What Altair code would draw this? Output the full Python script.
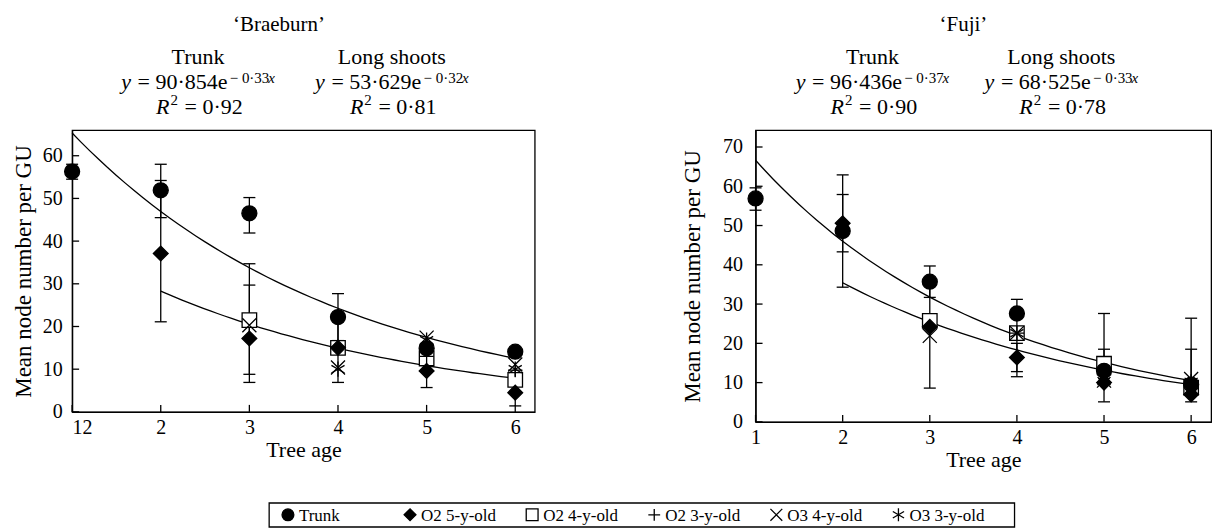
import altair as alt
import pandas as pd

FONT = "Liberation Serif"

# ---------------- data ----------------
ages = [1, 2, 3, 4, 5, 6]
series = ["Trunk", "O2 5-y-old", "O2 4-y-old", "O2 3-y-old", "O3 4-y-old", "O3 3-y-old"]

# 'Braeburn' mean node numbers (None = no value)
br_trunk = [56.3, 51.9, 46.5, 22.2, 14.9, 14.1]
br_o2_5y = [None, 37.1, 17.2, 15.0, 9.6, 4.5]
br_o2_4y = [None, None, 21.5, 15.0, 12.5, 7.5]
br_o2_3y = [None, None, None, 15.2, 13.0, 9.8]
br_o3_4y = [None, None, 20.3, 10.4, 17.4, 11.1]
br_o3_3y = [None, None, None, 10.0, 16.8, 10.0]

br_err_age = [1, 2, 2, 3, 3, 3, 4, 4, 5, 6]
br_err_lo = [54.5, 45.5, 21.1, 41.9, 8.8, 6.9, 16.7, 6.9, 5.7, 1.4]
br_err_hi = [58.0, 58.0, 54.2, 50.2, 34.7, 29.7, 27.7, 23.0, 13.5, 7.5]

# 'Fuji'
fj_trunk = [56.9, 48.6, 35.7, 27.6, 13.0, 9.5]
fj_o2_5y = [None, 50.6, 24.2, 16.4, 10.0, 7.0]
fj_o2_4y = [None, None, 25.7, 22.6, 14.8, 8.7]
fj_o2_3y = [None, None, None, 22.6, 12.0, 9.5]
fj_o3_4y = [None, None, 21.9, 22.6, 10.5, 10.9]
fj_o3_3y = [None, None, None, 22.6, 10.4, 10.2]

fj_err_age = [1, 2, 2, 3, 3, 4, 4, 4, 5, 5, 6, 6]
fj_err_lo = [53.9, 34.3, 43.3, 31.7, 8.6, 24.0, 11.5, 12.8, 5.1, 11.0, 5.1, 7.0]
fj_err_hi = [59.6, 62.9, 57.9, 39.7, 35.0, 31.2, 21.3, 20.0, 27.6, 18.5, 26.4, 18.5]

# exponential fits y = a*exp(-b*x)
fit_names = ["Trunk", "Long shoots"]
fit_x_start = [1, 2]
fit_x_end = [6, 6]
br_fit_a = [90.854, 53.629]
br_fit_b = [0.33, 0.32]
br_r2 = [0.92, 0.81]
fj_fit_a = [96.436, 68.525]
fj_fit_b = [0.37, 0.33]
fj_r2 = [0.90, 0.78]

# axes
x_ticks = [1, 2, 3, 4, 5, 6]
br_x_labels = ["12", "2", "3", "4", "5", "6"]
fj_x_labels = ["1", "2", "3", "4", "5", "6"]
br_y_ticks = [0, 10, 20, 30, 40, 50, 60]
fj_y_ticks = [0, 10, 20, 30, 40, 50, 60, 70]

# ---------------- styling ----------------
shapes = ["circle", "diamond", "square",
          "M-1,0L1,0M0,-1L0,1",
          "M-1,-1L1,1M-1,1L1,-1",
          "M0,-1.1L0,1.1M-0.95,-0.55L0.95,0.55M-0.95,0.55L0.95,-0.55"]
fills = ["black", "black", "white", "transparent", "transparent", "transparent"]
sizes = [225, 190, 170, 170, 150, 190]
draw_order = [2, 0, 1, 3, 4, 5]
LW = 1.3

shape_scale = alt.Scale(domain=series, range=shapes)
fill_scale = alt.Scale(domain=series, range=fills)

TW = {" ": .25, "=": .564, "·": .25, "e": .444, "−": .564, "0": .5, "1": .5, "2": .5,
      "3": .5, "4": .5, "5": .5, "6": .5, "7": .5, "8": .5, "9": .5}


def tw(s, size):
    return sum(TW.get(c, .5) for c in s) * size


def fmt(v, nd):
    return f"{v:.{nd}f}".replace(".", "·")


def annotations(cultivar, fa, fb, r2, centers, title_x):
    F, S = 22, 15
    sp = .3 * F
    rows = [dict(t=cultivar, x=title_x, y=-99, st="normal", fs=21, al="center")]
    for name, a, b, r, cx in zip(fit_names, fa, fb, r2, centers):
        rows.append(dict(t=name, x=cx, y=-66, st="normal", fs=F, al="center"))
        main = "= " + fmt(a, 3) + "e"
        sup = "− " + fmt(b, 2)
        w = .444 * F + sp + tw(main, F) + 4 + tw(sup, S) + .444 * S
        x0 = cx - w / 2
        rows.append(dict(t="y", x=x0, y=-41, st="italic", fs=F, al="left"))
        x1 = x0 + .444 * F + sp
        rows.append(dict(t=main, x=x1, y=-41, st="normal", fs=F, al="left"))
        x2 = x1 + tw(main, F) + 4
        rows.append(dict(t=sup, x=x2, y=-47, st="normal", fs=S, al="left"))
        rows.append(dict(t="x", x=x2 + tw(sup, S), y=-47, st="italic", fs=S, al="left"))
        tail = "= " + fmt(r, 2)
        w = .611 * F + .5 * S + sp + tw(tail, F)
        x0 = cx - w / 2
        rows.append(dict(t="R", x=x0, y=-16, st="italic", fs=F, al="left"))
        rows.append(dict(t="2", x=x0 + .611 * F + 1, y=-25, st="normal", fs=S, al="left"))
        rows.append(dict(t=tail, x=x0 + .611 * F + .5 * S + sp + 1, y=-16, st="normal", fs=F, al="left"))
    df = pd.DataFrame(rows)
    layers = []
    for (st, fs, al), g in df.groupby(["st", "fs", "al"]):
        layers.append(
            alt.Chart(g).mark_text(font=FONT, fontSize=int(fs), fontStyle=st, align=al,
                                   baseline="alphabetic", color="black")
            .encode(x=alt.X("x:Q", scale=None), y=alt.Y("y:Q", scale=None), text="t:N")
        )
    return layers


def panel(cultivar, vals, err_age, err_lo, err_hi, fa, fb, r2, y_ticks, x_labels,
          xdom, ydom, w, h, centers, title_x, ypad, tpad, xflush):
    xs = alt.Scale(domain=xdom, nice=False, zero=False)
    ys = alt.Scale(domain=ydom, nice=False, zero=False)
    label_arr = "[" + ",".join(f"'{l}'" for l in x_labels) + "]"
    xa = alt.Axis(values=x_ticks, title="Tree age", ticks=False, labelPadding=6,
                  titlePadding=2, labelFontSize=20, titleFontSize=22, labelFlush=xflush,
                  labelExpr=f"{label_arr}[datum.value-1]")
    ya = alt.Axis(values=y_ticks, title="Mean node number per GU", ticks=False,
                  labelPadding=ypad, titlePadding=tpad, labelFontSize=20, titleFontSize=23)

    def X(f):
        return alt.X(f, type="quantitative", scale=xs, axis=xa)

    def Y(f):
        return alt.Y(f, type="quantitative", scale=ys, axis=ya)

    rows = []
    for si in draw_order:
        for age, v in zip(ages, vals[si]):
            if v is not None:
                rows.append(dict(age=age, val=v, series=series[si]))
    pts = pd.DataFrame(rows)
    err = pd.DataFrame(dict(age=err_age, lo=err_lo, hi=err_hi))

    layers = []
    for a, b, x0, x1 in zip(fa, fb, fit_x_start, fit_x_end):
        layers.append(
            alt.Chart(alt.sequence(0, 1.0001, 0.02, as_="t"))
            .transform_calculate(xv=f"{x0}+datum.t*{x1 - x0}")
            .transform_calculate(yv=f"{a}*exp(-{b}*datum.xv)")
            .mark_line(color="black", strokeWidth=LW)
            .encode(x=X("xv"), y=Y("yv"))
        )
    layers.append(alt.Chart(err).mark_rule(color="black", strokeWidth=LW)
                  .encode(x=X("age"), y=Y("lo"), y2="hi"))
    for f in ["lo", "hi"]:
        layers.append(alt.Chart(err).mark_tick(orient="horizontal", size=12, thickness=LW,
                                               color="black", opacity=1)
                      .encode(x=X("age"), y=Y(f)))
    layers.append(
        alt.Chart(pts).mark_point(stroke="black", strokeWidth=LW, opacity=1, fillOpacity=1)
        .encode(
            x=X("age"), y=Y("val"),
            shape=alt.Shape("series:N", scale=shape_scale, legend=None),
            fill=alt.Fill("series:N", scale=fill_scale, legend=None),
            size=alt.Size("series:N", scale=alt.Scale(domain=series, range=sizes), legend=None),
        )
    )
    # inward tick marks
    layers.append(alt.Chart(pd.DataFrame(dict(v=y_ticks)))
                  .mark_tick(orient="horizontal", size=7, thickness=LW, color="black", opacity=1, xOffset=3.5)
                  .encode(y=Y("v"), x=alt.XDatum(xdom[0], type="quantitative", scale=xs, axis=xa)))
    layers.append(alt.Chart(pd.DataFrame(dict(v=x_ticks)))
                  .mark_tick(orient="vertical", size=7, thickness=LW, color="black", opacity=1, yOffset=-3.5)
                  .encode(x=X("v"), y=alt.YDatum(ydom[0], type="quantitative", scale=ys, axis=ya)))
    layers += annotations(cultivar, fa, fb, r2, centers, title_x)
    return alt.layer(*layers).properties(width=w, height=h)


left = panel("‘Braeburn’",
             [br_trunk, br_o2_5y, br_o2_4y, br_o2_3y, br_o3_4y, br_o3_3y],
             br_err_age, br_err_lo, br_err_hi, br_fit_a, br_fit_b, br_r2,
             br_y_ticks, br_x_labels, [1, 6.22], [0, 66], 463, 282,
             [126, 320], 207, 10, 7, True)
right = panel("‘Fuji’",
              [fj_trunk, fj_o2_5y, fj_o2_4y, fj_o2_3y, fj_o3_4y, fj_o3_3y],
              fj_err_age, fj_err_lo, fj_err_hi, fj_fit_a, fj_fit_b, fj_r2,
              fj_y_ticks, fj_x_labels, [1, 6.23], [0, 74.3], 456, 292,
              [117, 306], 208, 13, 18, False)

# ---------------- legend (boxed key row) ----------------
leg_df = pd.DataFrame(dict(series=series))
leg_x = alt.X("series:N", type="nominal", sort=series,
              scale=alt.Scale(type="point", domain=series, range=[19, 630], padding=0), axis=None)
leg_pts = alt.Chart(leg_df).mark_point(stroke="black", strokeWidth=LW, opacity=1,
                                        fillOpacity=1, size=140).encode(
    x=leg_x, y=alt.value(12),
    shape=alt.Shape("series:N", scale=shape_scale, legend=None),
    fill=alt.Fill("series:N", scale=fill_scale, legend=None),
)
leg_txt = alt.Chart(leg_df).mark_text(font=FONT, fontSize=17, align="left", baseline="middle",
                                       dx=11, dy=1, color="black").encode(
    x=leg_x, y=alt.value(12), text="series:N")
key = alt.layer(leg_pts, leg_txt).properties(width=746, height=24)

top = alt.hconcat(left, right, spacing=145)
chart = (
    alt.vconcat(top, key, spacing=30, center=True)
    .properties(padding={"left": 3, "top": 5, "right": 0, "bottom": 0}, background="white")
    .configure_view(stroke="black", strokeWidth=LW)
    .configure_axis(domainColor="black", domainWidth=LW, labelColor="black", titleColor="black",
                    grid=False, labelFont=FONT, titleFont=FONT, titleFontWeight="normal")
)

chart.save("out.html", embed_options={"renderer": "svg", "actions": False})
